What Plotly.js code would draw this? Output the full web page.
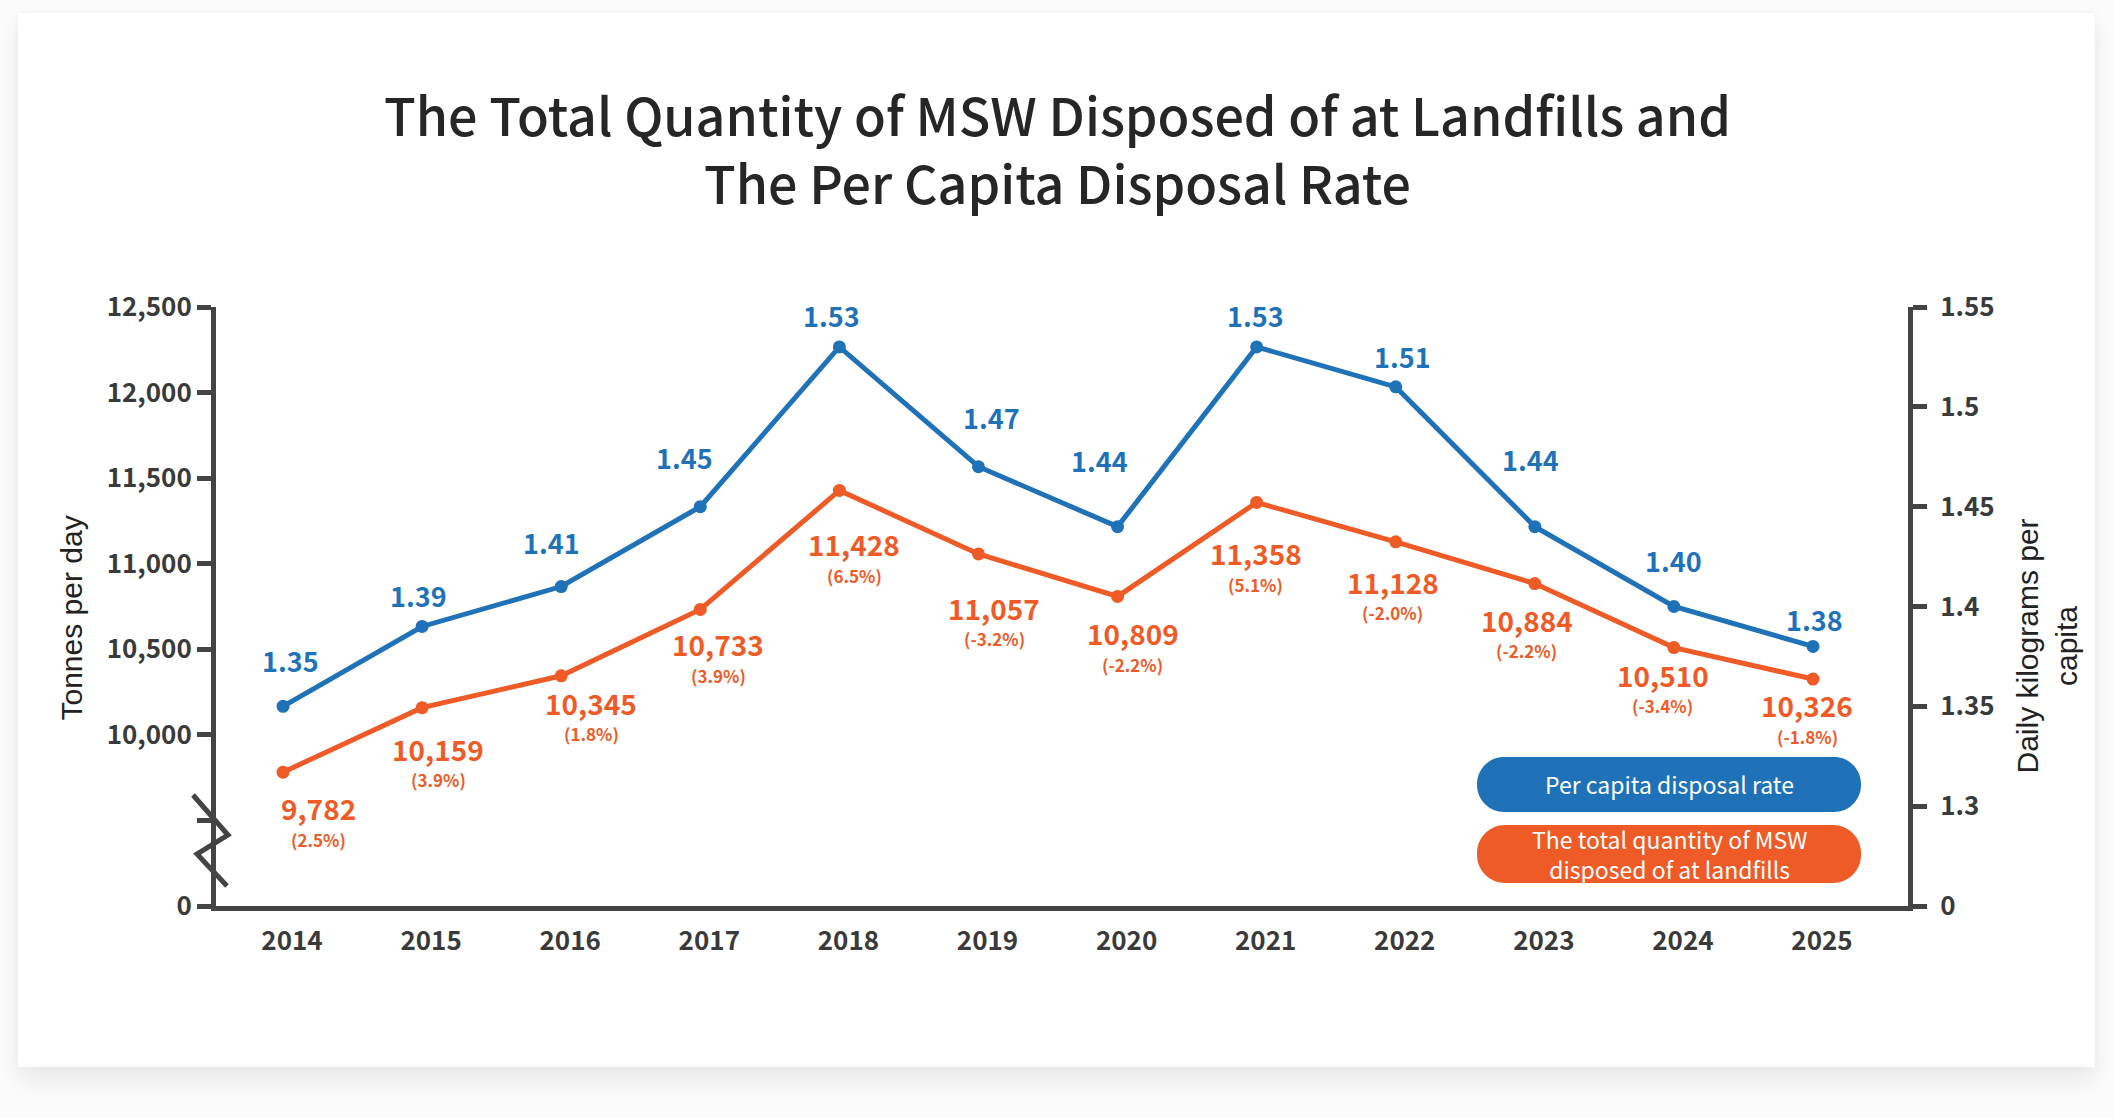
<!DOCTYPE html>
<html>
<head>
<meta charset="utf-8">
<script src="https://cdn.plot.ly/plotly-3.0.1.min.js"></script>
<style>
  html, body { margin: 0; padding: 0; background: #fbfbfb; }
  #card {
    position: absolute; left: 18px; top: 13px; width: 2077px; height: 1054px;
    background: #fff;
    box-shadow: 0 14px 22px rgba(0,0,0,0.07), 0 0 8px rgba(0,0,0,0.04);
  }
  #chart { position: absolute; left: 0; top: 0; width: 2114px; height: 1118px; }
</style>
</head>
<body>
<div id="card"></div>
<div id="chart"></div>
<script>
// data
const years = [2014, 2015, 2016, 2017, 2018, 2019, 2020, 2021, 2022, 2023, 2024, 2025];
const totalTonnes = [9782, 10159, 10345, 10733, 11428, 11057, 10809, 11358, 11128, 10884, 10510, 10326];
const totalChange = ['2.5%', '3.9%', '1.8%', '3.9%', '6.5%', '-3.2%', '-2.2%', '5.1%', '-2.0%', '-2.2%', '-3.4%', '-1.8%'];
const perCapita = [1.35, 1.39, 1.41, 1.45, 1.53, 1.47, 1.44, 1.53, 1.51, 1.44, 1.40, 1.38];

// broken left axis: the bottom slot stands for 0
const leftTickVals = [9000, 9500, 10000, 10500, 11000, 11500, 12000, 12500];
const leftTickText = ['0', '', '10,000', '10,500', '11,000', '11,500', '12,000', '12,500'];
const rightTickVals = [1.25, 1.3, 1.35, 1.4, 1.45, 1.5, 1.55];
const rightTickText = ['0', '1.3', '1.35', '1.4', '1.45', '1.5', '1.55'];

const BLUE = '#1f72b8';
const ORANGE = '#ee5b27';
const AXIS = '#444444';
const TXT_FONT = 'Noto Sans CJK TC, Noto Sans, sans-serif';
const NUM_FONT = 'Noto Sans CJK TC, Roboto, sans-serif';

// label nudges in px (dx, dy downwards) to follow the hand placed labels
const blueShift = [[7,-46],[-4,-31],[-10,-44],[-16,-49],[-8,-31],[13,-49],[-18,-66],[-1,-31],[7,-30],[-4,-67],[0,-46],[1,-27]];
const orangeShift = [[35,39],[16,44],[30,30],[18,38],[15,57],[16,57],[15,40],[-1,54],[-3,43],[-8,39],[-11,30],[-6,29]];

function pillPath(x0, x1, y0, y1, r) {
  const k = 0.5523 * r;
  return 'M' + (x0 + r) + ',' + y0 +
    ' L' + (x1 - r) + ',' + y0 +
    ' C' + (x1 - r + k) + ',' + y0 + ' ' + x1 + ',' + (y0 + r - k) + ' ' + x1 + ',' + (y0 + r) +
    ' L' + x1 + ',' + (y1 - r) +
    ' C' + x1 + ',' + (y1 - r + k) + ' ' + (x1 - r + k) + ',' + y1 + ' ' + (x1 - r) + ',' + y1 +
    ' L' + (x0 + r) + ',' + y1 +
    ' C' + (x0 + r - k) + ',' + y1 + ' ' + x0 + ',' + (y1 - r + k) + ' ' + x0 + ',' + (y1 - r) +
    ' L' + x0 + ',' + (y0 + r) +
    ' C' + x0 + ',' + (y0 + r - k) + ' ' + (x0 + r - k) + ',' + y0 + ' ' + (x0 + r) + ',' + y0 + ' Z';
}

const traces = [
  {
    type: 'scatter', mode: 'lines+markers',
    x: years, y: totalTonnes, yaxis: 'y',
    line: { color: ORANGE, width: 5 },
    marker: { color: ORANGE, size: 13 },
    hoverinfo: 'skip', showlegend: false,
  },
  {
    type: 'scatter', mode: 'lines+markers',
    x: years, y: perCapita, yaxis: 'y2',
    line: { color: BLUE, width: 5 },
    marker: { color: BLUE, size: 13 },
    hoverinfo: 'skip', showlegend: false,
  },
];

const annotations = [];
years.forEach((yr, i) => {
  annotations.push({
    x: yr, y: perCapita[i], xref: 'x', yref: 'y2', showarrow: false,
    text: perCapita[i].toFixed(2),
    font: { family: NUM_FONT, size: 27, color: BLUE, weight: 700 },
    xshift: blueShift[i][0], yshift: -blueShift[i][1],
  });
  annotations.push({
    x: yr, y: totalTonnes[i], xref: 'x', yref: 'y', showarrow: false,
    text: totalTonnes[i].toLocaleString('en-US'),
    font: { family: NUM_FONT, size: 28, color: ORANGE, weight: 700 },
    xshift: orangeShift[i][0], yshift: -(orangeShift[i][1] - 3),
  });
  annotations.push({
    x: yr, y: totalTonnes[i], xref: 'x', yref: 'y', showarrow: false,
    text: '(' + totalChange[i] + ')',
    font: { family: NUM_FONT, size: 17, color: ORANGE, weight: 700 },
    xshift: orangeShift[i][0], yshift: -(orangeShift[i][1] + 28),
  });
});

// title, two lines placed separately
const titleLines = ['The Total Quantity of MSW Disposed of at Landfills and', 'The Per Capita Disposal Rate'];
titleLines.forEach((t, i) => {
  annotations.push({
    xref: 'paper', yref: 'paper', x: 0.5, y: 1, xanchor: 'center', yanchor: 'middle',
    xshift: -5, yshift: 194 - 68 * i, showarrow: false,
    text: t,
    font: { family: TXT_FONT, size: 52, color: '#262626', weight: 500 },
  });
});

// axis titles
annotations.push({
  xref: 'paper', yref: 'paper', x: 0, y: 0.5, xanchor: 'center', yanchor: 'middle',
  xshift: -145, yshift: -12,
  text: 'Tonnes per day', textangle: -90, showarrow: false,
  font: { family: 'Liberation Sans, Arial, sans-serif', size: 30, color: '#222' },
});
annotations.push({
  xref: 'paper', yref: 'paper', x: 1, y: 0.5, xanchor: 'center', yanchor: 'middle',
  xshift: 138, yshift: -40,
  text: 'Daily kilograms per<br>capita', textangle: -90, showarrow: false,
  font: { family: 'Liberation Sans, Arial, sans-serif', size: 30, color: '#222' },
});

// legend pills text
annotations.push({
  xref: 'paper', yref: 'paper', x: 1, y: 0, xanchor: 'center', yanchor: 'middle',
  xshift: -239, yshift: 122,
  text: 'Per capita disposal rate', showarrow: false,
  font: { family: TXT_FONT, size: 23, color: '#fff' },
});
annotations.push({
  xref: 'paper', yref: 'paper', x: 1, y: 0, xanchor: 'center', yanchor: 'middle',
  xshift: -239, yshift: 52,
  text: 'The total quantity of MSW<br>disposed of at landfills', showarrow: false,
  font: { family: TXT_FONT, size: 23, color: '#fff' },
});

const shapes = [
  // axis break zigzag
  {
    type: 'path', xref: 'paper', yref: 'paper',
    xsizemode: 'pixel', ysizemode: 'pixel', xanchor: 0, yanchor: 0,
    path: 'M-23,111 L12,71 L-19,52 L11,20',
    line: { color: AXIS, width: 5 }, layer: 'above',
  },
  {
    type: 'path', xref: 'paper', yref: 'paper',
    xsizemode: 'pixel', ysizemode: 'pixel', xanchor: 1, yanchor: 0,
    path: pillPath(-431, -47, 94, 149, 27),
    fillcolor: BLUE, line: { width: 0 }, layer: 'below',
  },
  {
    type: 'path', xref: 'paper', yref: 'paper',
    xsizemode: 'pixel', ysizemode: 'pixel', xanchor: 1, yanchor: 0,
    path: pillPath(-431, -47, 23, 81, 28),
    fillcolor: ORANGE, line: { width: 0 }, layer: 'below',
  },
];

const tickFont = { family: NUM_FONT, size: 26, color: '#3a3a3a', weight: 700 };

const layout = {
  width: 2114, height: 1118,
  paper_bgcolor: 'rgba(0,0,0,0)',
  plot_bgcolor: 'rgba(0,0,0,0)',
  margin: { l: 216, r: 206, t: 307, b: 212 },
  xaxis: {
    range: [2013.518, 2025.683],
    tickvals: years, ticktext: years.map(String),
    showline: true, linewidth: 5, linecolor: AXIS,
    ticks: '', showgrid: false, zeroline: false,
    tickfont: tickFont, ticklabelstandoff: 8, ticklabelshift: 9,
  },
  yaxis: {
    range: [9000, 12500],
    tickvals: leftTickVals, ticktext: leftTickText,
    showline: true, linewidth: 5, linecolor: AXIS,
    ticks: 'outside', ticklen: 14, tickwidth: 5, tickcolor: AXIS,
    showgrid: false, zeroline: false,
    tickfont: tickFont, ticklabelstandoff: 0,
  },
  yaxis2: {
    overlaying: 'y', side: 'right',
    range: [1.25, 1.55],
    tickvals: rightTickVals, ticktext: rightTickText,
    showline: true, linewidth: 5, linecolor: AXIS,
    ticks: 'outside', ticklen: 14, tickwidth: 5, tickcolor: AXIS,
    showgrid: false, zeroline: false,
    tickfont: tickFont, ticklabelstandoff: 8,
  },
  annotations: annotations,
  shapes: shapes,
};

Plotly.newPlot('chart', traces, layout, { displayModeBar: false, staticPlot: true });
</script>
</body>
</html>
